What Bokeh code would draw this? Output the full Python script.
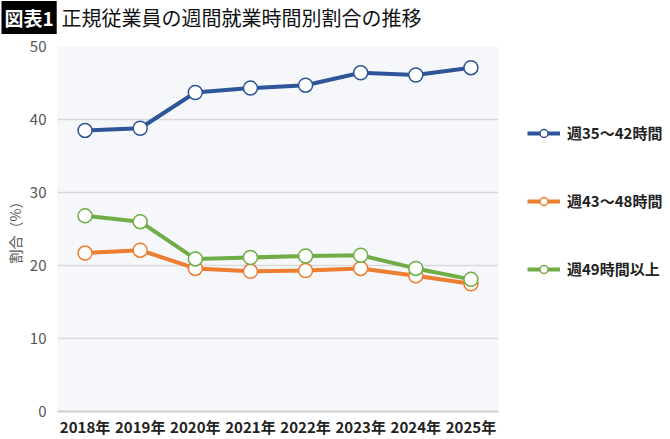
from bokeh.plotting import figure
from bokeh.models import Legend, LegendItem, Label, SingleIntervalTicker, Range1d
from bokeh.layouts import column, row
from bokeh.embed import file_html
from bokeh.resources import INLINE

# data
years = ["2018年", "2019年", "2020年", "2021年", "2022年", "2023年", "2024年", "2025年"]
h35_42 = [38.5, 38.8, 43.7, 44.3, 44.7, 46.4, 46.1, 47.1]
h43_48 = [21.7, 22.1, 19.6, 19.2, 19.3, 19.6, 18.6, 17.5]
h49_up = [26.8, 26.0, 20.9, 21.1, 21.3, 21.4, 19.6, 18.1]
names = ["週35～42時間", "週43～48時間", "週49時間以上"]
colors = ["#2E5597", "#ED7D31", "#70AD47"]

JP = "Noto Sans CJK JP"
W, H = 670, 439
TOP = 34
LEG_W = 164

# --- heading strip ---
t = figure(width=W, height=TOP, output_backend="svg", toolbar_location=None,
           x_axis_type=None, y_axis_type=None, min_border=0)
t.grid.grid_line_color = None
t.outline_line_color = None
badge = Label(x=1, y=17, x_units="screen", y_units="screen", text="図表1",
              text_font=JP, text_font_size="19px", text_font_style="bold",
              text_color="white", text_baseline="middle",
              background_fill_color="black", padding=3)
head = Label(x=61, y=17, x_units="screen", y_units="screen",
             text="正規従業員の週間就業時間別割合の推移",
             text_font=JP, text_font_size="20px", text_color="#111111",
             text_baseline="middle")
t.add_layout(badge)
t.add_layout(head)

# --- main chart ---
p = figure(x_range=years, y_range=(0, 50), width=W - LEG_W, height=H - TOP,
           output_backend="svg", toolbar_location=None,
           min_border_left=57, min_border_right=8, min_border_top=12,
           min_border_bottom=20)
p.x_range.range_padding = 0
p.border_fill_color = "white"
p.outline_line_color = None
p.background_fill_color = "#F5F7FB"

for vals, col in zip([h35_42, h43_48, h49_up], colors):
    p.line(years, vals, line_color=col, line_width=4)
    p.scatter(years, vals, size=14, fill_color="white", line_color=col,
              line_width=1.5)

p.yaxis.ticker = SingleIntervalTicker(interval=10)
p.ygrid.grid_line_color = "#D9D9D9"
p.ygrid.grid_line_width = 1.5
p.xgrid.grid_line_color = None

p.axis.major_tick_out = 0
p.axis.major_tick_in = 0
p.axis.minor_tick_out = 0
p.axis.minor_tick_in = 0

p.yaxis.axis_line_color = None
p.yaxis.major_label_text_font = JP
p.yaxis.major_label_text_font_size = "15px"
p.yaxis.major_label_text_color = "#555555"
p.yaxis.major_label_standoff = 11
p.yaxis.axis_label = "割合（%）"
p.yaxis.axis_label_text_font = JP
p.yaxis.axis_label_text_font_size = "14px"
p.yaxis.axis_label_text_font_style = "normal"
p.yaxis.axis_label_text_color = "#555555"
p.yaxis.axis_label_standoff = 2

p.xaxis.axis_line_color = "#D0D0D0"
p.xaxis.axis_line_width = 2
p.xaxis.major_label_text_font = JP
p.xaxis.major_label_text_font_size = "15px"
p.xaxis.major_label_text_font_style = "bold"
p.xaxis.major_label_text_color = "#222222"
p.xaxis.major_label_standoff = 4

# --- legend panel on the right ---
lg = figure(width=LEG_W, height=H - TOP, output_backend="svg",
            toolbar_location=None, x_axis_type=None, y_axis_type=None,
            min_border=0, x_range=Range1d(0, 1), y_range=Range1d(0, 1))
lg.grid.grid_line_color = None
lg.outline_line_color = None
nan = [float("nan")]
items = []
for name, col in zip(names, colors):
    ln = lg.line(x=nan, y=nan, line_color=col, line_width=4)
    sc = lg.scatter(x=nan, y=nan, size=14, fill_color="white", line_color=col,
                    line_width=1.5)
    items.append(LegendItem(label=name, renderers=[ln, sc]))
legend = Legend(items=items, location=(21, 132), spacing=47,
                glyph_width=33, glyph_height=20, label_standoff=7,
                padding=0, margin=0, border_line_color=None,
                background_fill_alpha=0,
                label_text_font=JP, label_text_font_size="15px",
                label_text_font_style="bold", label_text_color="#222222")
lg.add_layout(legend, "center")

layout = column(t, row(p, lg, spacing=0), spacing=0)
open("out.html", "w").write(file_html(layout, INLINE))
